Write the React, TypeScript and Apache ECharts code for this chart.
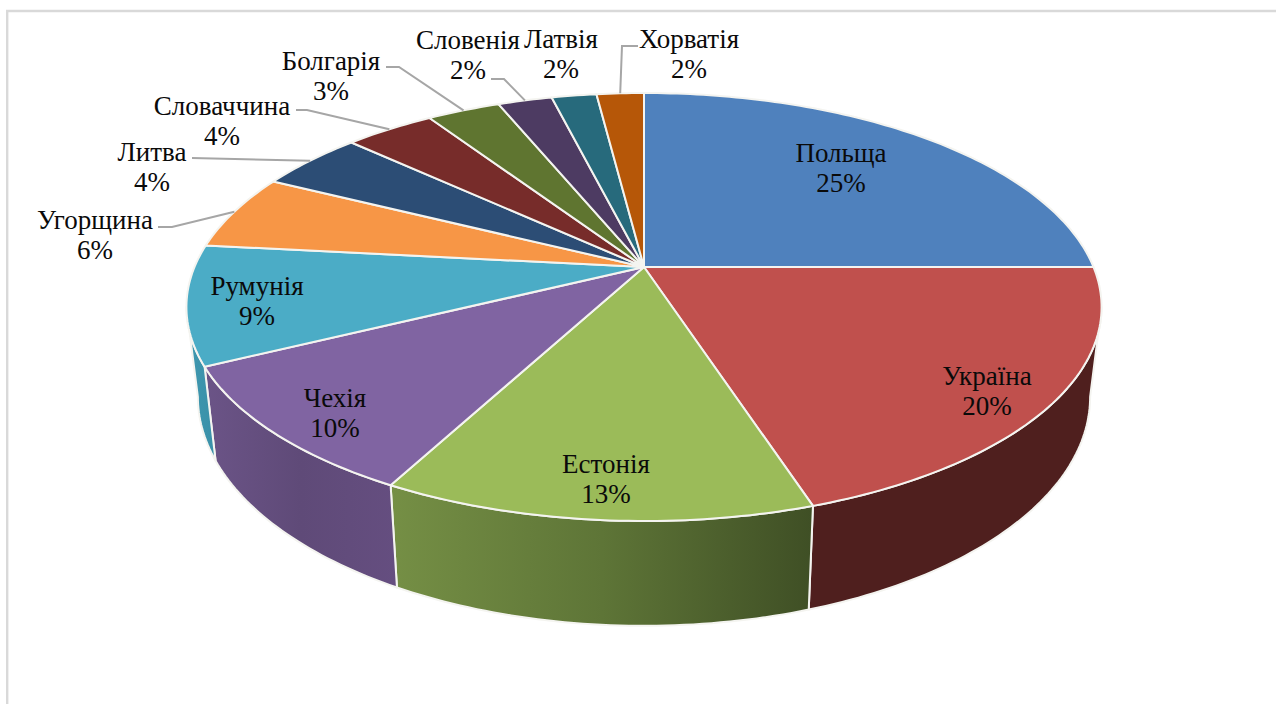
import React, { useEffect, useRef } from "react";
import * as echarts from "echarts";

const categories = ["Польща", "Україна", "Естонія", "Чехія", "Румунія", "Угорщина", "Литва", "Словаччина", "Болгарія", "Словенія", "Латвія", "Хорватія"];
const shares = [25, 20, 12.8, 9.9, 9, 5.7, 4.49, 3.81, 3.1, 2.3, 1.9, 2];
const topColors = ["#4f81bd", "#c0504d", "#9bbb59", "#8064a2", "#4bacc6", "#f79646", "#2c4d75", "#772c2a", "#5f7530", "#4d3b62", "#276a7c", "#b65708"];
const wallStops: (string[] | null)[] = [
  null,
  ["#4f1f1e", "#4f1f1e"],
  ["#758f45", "#5e7537", "#3f4f25"],
  ["#6b5487", "#5f4a78", "#654e80"],
  ["#3f98b0", "#3a90a8"],
  null, null, null, null, null, null, null,
];

// Label centres in page pixels, and the elbow of the leader line: [startX, startY, elbowX, elbowY]
const labelCentres = [[841, 168], [987, 391], [606, 479], [335, 413], [257, 301], [95, 235], [152, 167], [222, 121], [331, 76], [468, 55], [561, 54], [689, 54]];
const leaderElbows: (number[] | null)[] = [
  null, null, null, null, null,
  [158, 227, 172, 227],
  [192, 158, 192, 158],
  [296, 110, 307, 110],
  [386, 67, 399, 67],
  [491, 79, 504, 79],
  null,
  [638, 46, 622, 46],
];

// Perspective of the pie disc
const APEX_X = 644, APEX_Y = 267, RX = 449.5, RY = 206.5, K = 0.187;
const WALL_X = 0.975, WALL_Y = 1.07, WALL_B = 354;
// The disc's silhouette turns at these angles: a wall stops there, its edge being the tangent
const TURN_RIGHT = Math.acos(-K);
const TURN_LEFT = Math.PI * 2 - TURN_RIGHT;

const total = shares.reduce((a, b) => a + b, 0);
const starts: number[] = [];
shares.reduce((acc, v, i) => { starts[i] = acc; return acc + v; }, 0);
const toAngle = (share: number) => (share / total) * Math.PI * 2;

const top = (a: number): number[] => {
  const u = Math.sin(a), v = -Math.cos(a), d = 1 - K * v;
  return [APEX_X + (RX * u) / d, APEX_Y + (RY * v) / d];
};
const bottom = (a: number): number[] => {
  const p = top(a);
  return [APEX_X + (p[0] - APEX_X) * WALL_X, WALL_B + (p[1] - APEX_Y) * WALL_Y];
};
const arc = (a0: number, a1: number, f: (a: number) => number[]) => {
  const n = Math.max(2, Math.ceil(((a1 - a0) * 180) / Math.PI));
  const out: number[][] = [];
  for (let i = 0; i <= n; i++) out.push(f(a0 + ((a1 - a0) * i) / n));
  return out;
};
const range = (i: number) => [toAngle(starts[i]), toAngle(starts[i] + shares[i])];

const renderWall = (params: any) => {
  const i = params.dataIndex;
  const stops = wallStops[i];
  if (!stops) return { type: "group", children: [] };
  const [r0, r1] = range(i);
  const a0 = Math.max(r0, TURN_RIGHT);
  const a1 = Math.min(r1, TURN_LEFT);
  const points = [...arc(a0, a1, top), ...arc(a0, a1, bottom).reverse()];
  return {
    type: "polygon",
    shape: { points },
    style: {
      fill: new echarts.graphic.LinearGradient(0, 0, 1, 0, stops.map((color, k) => ({ offset: k / (stops.length - 1), color }))),
      stroke: "#f4f4f0",
      lineWidth: 2,
      lineJoin: "round",
    },
  };
};

const renderTop = (params: any) => {
  const i = params.dataIndex;
  const [a0, a1] = range(i);
  return {
    type: "polygon",
    shape: { points: [[APEX_X, APEX_Y], ...arc(a0, a1, top)] },
    style: { fill: topColors[i], stroke: "#f4f4f0", lineWidth: 2, lineJoin: "round" },
  };
};

const renderLabel = (params: any, api: any) => {
  const i = params.dataIndex;
  const [a0, a1] = range(i);
  const children: any[] = [];
  const e = leaderElbows[i];
  if (e) {
    const end = top((a0 + a1) / 2);
    children.push({
      type: "polyline",
      shape: { points: [[e[0], e[1]], [e[2], e[3]], end] },
      style: { stroke: "#a6a6a6", lineWidth: 2, fill: "none" },
    });
  }
  children.push({
    type: "text",
    style: {
      text: `${categories[i]}\n${Math.round(api.value(0))}%`,
      x: labelCentres[i][0],
      y: labelCentres[i][1],
      align: "center",
      verticalAlign: "middle",
      lineHeight: 30,
      fontSize: 27,
      fontFamily: '"Liberation Serif", serif',
      fill: "#0a0a0a",
    },
  });
  return { type: "group", children };
};

export default function App() {
  const ref = useRef<HTMLDivElement>(null);
  useEffect(() => {
    document.body.style.margin = "0";
    const chart = echarts.init(ref.current!, undefined, { renderer: "svg" });
    chart.setOption({
      animation: false,
      backgroundColor: "#ffffff",
      graphic: [
        { type: "line", shape: { x1: 6, y1: 11, x2: 1276, y2: 11 }, style: { stroke: "#d9d9d9", lineWidth: 2.4 } },
        { type: "line", shape: { x1: 7.2, y1: 10, x2: 7.2, y2: 704 }, style: { stroke: "#d9d9d9", lineWidth: 2.4 } },
      ],
      series: [
        { type: "custom", coordinateSystem: "none", silent: true, z: 1, data: shares, renderItem: renderWall },
        { type: "custom", coordinateSystem: "none", silent: true, z: 2, data: shares, renderItem: renderTop },
        { type: "custom", coordinateSystem: "none", silent: true, z: 3, data: shares, renderItem: renderLabel },
      ],
    });
    return () => chart.dispose();
  }, []);
  return <div ref={ref} style={{ position: "absolute", left: 0, top: 0, width: 1276, height: 704 }} />;
}
